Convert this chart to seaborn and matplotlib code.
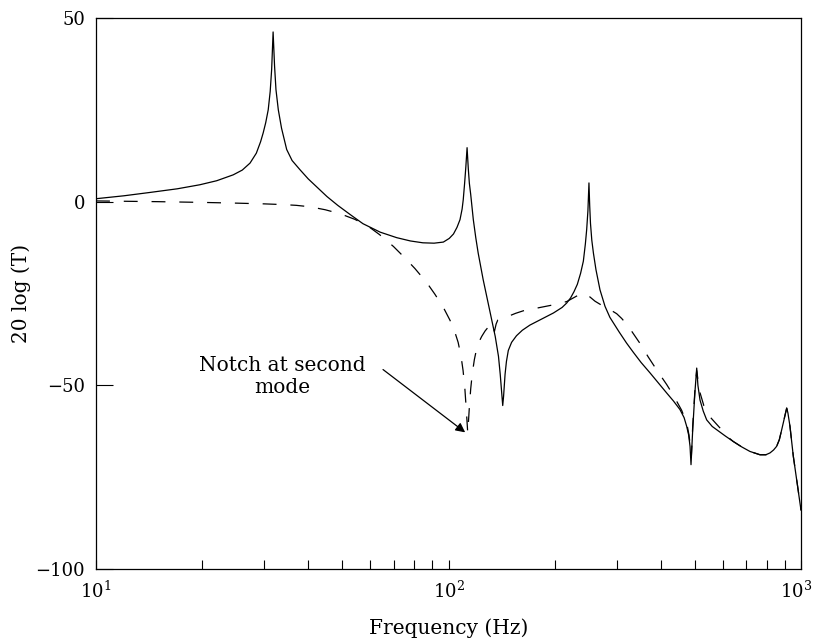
import numpy as np
import matplotlib
matplotlib.use("Agg")
import matplotlib.pyplot as plt
import matplotlib.transforms as mtransforms
import seaborn as sns

# ---- data ----
solid_freq = [10.0, 12.0, 14.2, 17.0, 19.7, 22.0, 24.5, 26.0, 27.35, 28.5, 29.3, 29.8,
              30.3, 30.8, 31.2, 31.5, 31.8, 32.1, 32.4, 32.9, 33.6, 34.75, 36.0, 37.9,
              40.0, 42.5, 45.2, 48.5, 52.6, 57.2, 64.0, 71.3, 78.0, 84.6, 91.0, 96.7,
              100.5, 103.3, 105.7, 107.8, 109.3, 110.1, 111.1, 112.0, 112.9, 113.8, 114.6,
              115.6, 117.6, 119.5, 121.4, 125.4, 131.3, 135.7, 138.6, 140.2, 141.6, 142.5,
              143.3, 144.7, 146.0, 147.8, 151.0, 155.9, 162.0, 170.2, 185.0, 198.5, 210.0,
              216.4, 222.0, 227.0, 232.0, 237.0, 241.3, 244.5, 246.6, 248.6, 250.3, 251.5,
              252.8, 255.0, 257.7, 262.0, 269.0, 278.0, 287.0, 305.0, 320.0, 334.4, 352.0,
              372.9, 395.0, 416.0, 435.0, 453.6, 466.0, 474.0, 480.0, 484.4, 487.5, 493.0,
              500.0, 506.0, 510.0, 517.0, 528.0, 540.0, 560.0, 576.6, 610.0, 642.7, 680.0,
              716.5, 765.0, 795.0, 816.6, 836.0, 853.0, 868.0, 881.5, 895.0, 905.0, 910.8,
              918.0, 930.6, 951.0, 975.0, 1000.0]
solid_db = [0.8, 1.6, 2.5, 3.5, 4.6, 5.7, 7.3, 8.6, 10.5, 13.2, 16.3, 18.7,
            21.5, 25.0, 30.0, 36.0, 46.2, 37.0, 30.5, 25.0, 20.0, 14.2, 11.2, 8.7,
            6.2, 3.8, 1.4, -1.0, -3.5, -6.0, -8.3, -9.8, -10.7, -11.2, -11.3, -11.0,
            -10.0, -8.8, -7.0, -4.9, -2.0, 0.5, 5.0, 9.5, 14.7, 9.0, 5.0,
            2.0, -4.9, -9.8, -14.0, -21.2, -30.3, -36.7, -42.1, -47.0, -52.0, -55.5,
            -53.0, -47.0, -43.5, -40.5, -38.3, -36.5, -35.0, -33.6, -31.8, -30.3, -28.8,
            -27.6, -26.2, -24.5, -22.5, -19.5, -16.2, -11.5, -7.6, -2.5, 5.1, -1.0,
            -5.9, -10.5, -14.0, -18.5, -24.0, -28.5, -31.5, -35.5, -38.5, -41.0, -43.8,
            -46.6, -49.5, -52.1, -54.3, -56.6, -58.8, -61.2, -63.5, -66.6, -71.6, -62.0,
            -52.0, -45.3, -50.0, -54.0, -57.0, -59.4, -61.2, -62.1, -63.8, -65.3, -66.8,
            -68.0, -68.9, -68.9, -68.4, -67.6, -66.6, -64.8, -62.1, -59.3, -57.3, -56.2,
            -57.5, -61.2, -69.3, -76.5, -84.0]

dash_freq = [10.0, 15.0, 20.0, 25.0, 30.0, 34.0, 37.0, 40.5, 44.7, 49.3, 54.2, 59.2,
             63.8, 69.8, 75.2, 80.3, 86.7, 91.5, 96.7, 101.0, 104.0, 106.5, 108.5, 110.0,
             111.3, 112.3, 113.4, 114.5, 115.6, 116.8, 118.4, 120.0, 122.0, 124.2, 127.0,
             130.0, 133.0, 135.0, 136.5, 138.0, 142.0, 147.8, 155.0, 163.1, 179.8, 200.5,
             216.4, 228.0, 236.0, 241.3, 248.0, 260.4, 272.0, 287.2, 300.0, 310.0, 321.0,
             331.0, 349.4, 368.8, 389.6, 416.0, 436.2, 458.6, 474.0, 481.0, 486.0, 488.5,
             493.0, 500.0, 506.0, 511.0, 517.0, 530.0, 552.0, 589.0, 610.0, 642.7, 680.0,
             716.5, 765.0, 795.0, 816.6, 836.0, 853.0, 868.0, 881.5, 895.0, 905.0, 910.8,
             918.0, 930.6, 951.0, 975.0, 1000.0]
dash_db = [0.2, 0.0, -0.2, -0.4, -0.6, -0.8, -1.0, -1.4, -2.2, -3.3, -4.8, -6.7,
           -9.0, -12.2, -15.3, -18.2, -22.0, -25.2, -28.8, -32.3, -35.2, -38.3, -42.0, -46.0,
           -51.0, -56.5, -63.0, -56.5, -51.0, -46.8, -43.0, -40.3, -38.2, -36.7, -35.2,
           -34.0, -33.0, -35.3, -33.3, -32.2, -31.8, -31.2, -30.4, -29.7, -28.9, -28.0,
           -27.2, -26.0, -25.2, -24.9, -25.4, -27.1, -28.2, -29.4, -30.5, -31.8, -33.5,
           -35.3, -38.6, -42.3, -45.8, -49.8, -53.0, -56.8, -60.3, -63.5, -67.0, -69.5,
           -61.0, -51.5, -46.0, -49.0, -52.0, -55.5, -58.6, -61.6, -63.5, -65.3, -66.8,
           -68.0, -68.9, -68.9, -68.4, -67.6, -66.6, -64.8, -62.1, -59.3, -57.3, -56.2,
           -57.5, -61.2, -69.3, -76.5, -84.0]

x_ticks = [10, 100, 1000]
x_ticklabels = [r"$10^{1}$", r"$10^{2}$", r"$10^{3}$"]
y_ticks = [-100, -50, 0, 50]
y_ticklabels = ["\u2212100", "\u221250", "0", "50"]

note_text = "Notch at second\nmode"
note_pos = (33.7, -47.6)
arrow_tail = (65.2, -45.7)
arrow_tip = (111.5, -62.8)

sns.set_theme(style="white")
plt.rcParams["font.family"] = ["DejaVu Serif"]
plt.rcParams["mathtext.fontset"] = "dejavuserif"
plt.rcParams["lines.scale_dashes"] = False
for k in ["text.color", "axes.labelcolor", "xtick.color", "ytick.color"]:
    plt.rcParams[k] = "black"

fig = plt.figure(figsize=(8.15, 6.42), dpi=100)
ax = fig.add_axes([96 / 815, 1 - 569 / 642, 705 / 815, 551 / 642])

sns.lineplot(x=solid_freq, y=solid_db, ax=ax, color="black", linewidth=0.9,
             sort=False, estimator=None)
sns.lineplot(x=dash_freq, y=dash_db, ax=ax, color="black", linewidth=0.9,
             linestyle=(0, (10, 10)), sort=False, estimator=None)

ax.set_xscale("log")
ax.set_xlim(10, 1000)
ax.set_ylim(-100, 50)
ax.set_xticks(x_ticks)
ax.set_xticklabels(x_ticklabels)
ax.xaxis.set_minor_locator(matplotlib.ticker.LogLocator(base=10, subs=np.arange(2, 10)))
ax.xaxis.set_minor_formatter(matplotlib.ticker.NullFormatter())
ax.set_yticks(y_ticks)
ax.set_yticklabels(y_ticklabels)

ax.tick_params(axis="x", which="both", direction="in", length=6.5, width=0.8,
               labelsize=13, pad=8, bottom=True, top=False)
ax.tick_params(axis="y", which="major", direction="in", length=12, width=0.8,
               labelsize=13, pad=8, left=True, right=False)
for s in ax.spines.values():
    s.set_color("black")
    s.set_linewidth(0.9)
    s.set_visible(True)

ax.set_xlabel("Frequency (Hz)", fontsize=14.5, labelpad=12)
ax.set_ylabel("20 log (T)", fontsize=14.5, labelpad=3)

ax.text(note_pos[0], note_pos[1], note_text, fontsize=14.5, ha="center", va="center",
        multialignment="center", linespacing=1.15)
ax.annotate("", xy=arrow_tip, xytext=arrow_tail,
            arrowprops=dict(arrowstyle="-|>", color="black", lw=0.9,
                            mutation_scale=14, shrinkA=0, shrinkB=0))

# nudge the last x tick label slightly left so it stays inside the figure
last = ax.get_xticklabels()[-1]
last.set_transform(last.get_transform() +
                   mtransforms.ScaledTranslation(-5 / 100, 0, fig.dpi_scale_trans))

fig.savefig("out.png", dpi=100)
